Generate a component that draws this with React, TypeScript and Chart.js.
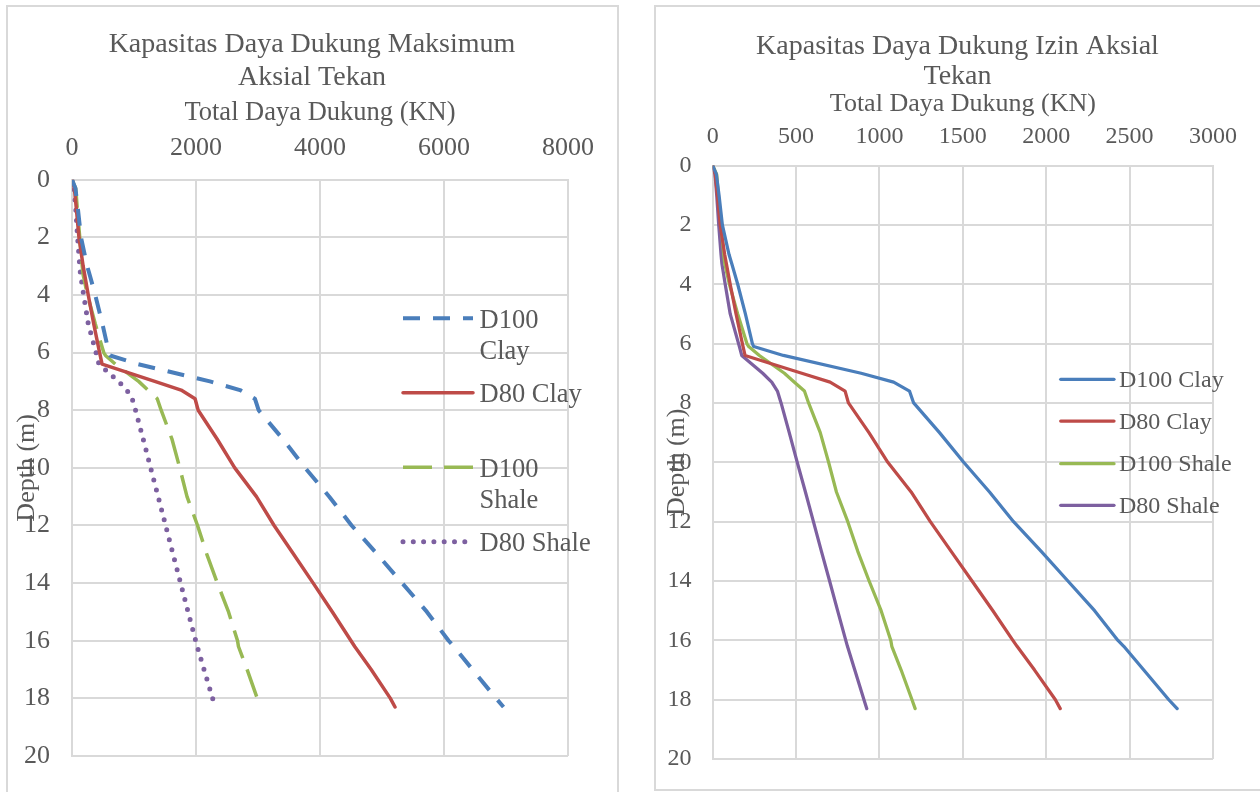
import React, { useEffect, useRef } from "react";
import { Chart, registerables } from "chart.js";

Chart.register(...registerables);

// ---------------- DATA ----------------
const depths = [0, 0.3, 1, 2, 3, 3.3, 4, 5, 6, 6.1, 6.4, 7, 7.3, 7.6, 8, 9, 10, 11, 12, 13, 14, 15, 16, 16.2, 17, 18, 18.3];

const seriesNames = ["D100 Clay", "D80 Clay", "D100 Shale", "D80 Shale"];

// Maximum axial compressive capacity (KN)
const maksD100Clay = [0, 55, 95, 145, 245, 285, 375, 490, 595, 615, 1060, 2225, 2710, 2950, 3010, 3400, 3760, 4150, 4510, 4925, 5325, 5725, 6075, 6160, 6460, 6840, 6960];
const maksD80Clay = [0, 38, 70, 112, 180, 205, 262, 350, 445, 455, 485, 1335, 1760, 1985, 2035, 2340, 2625, 2975, 3260, 3575, 3890, 4200, 4500, 4560, 4825, 5135, 5210];
const maksD100Shale = [0, 60, 85, 125, 165, 180, 250, 375, 512, 540, 700, 1075, 1225, 1375, 1438, 1612, 1738, 1855, 2025, 2175, 2345, 2525, 2670, 2685, 2825, 2988, 3035];
const maksD80Shale = [0, 35, 60, 90, 125, 138, 188, 262, 388, 400, 435, 750, 885, 970, 1025, 1148, 1268, 1390, 1510, 1630, 1752, 1872, 1995, 2020, 2130, 2268, 2310];

// Allowable axial compressive capacity (KN)
const izinD100Clay = [0, 22, 38, 58, 98, 114, 150, 196, 238, 246, 424, 890, 1085, 1180, 1205, 1360, 1505, 1660, 1804, 1970, 2130, 2290, 2430, 2465, 2585, 2735, 2785];
const izinD80Clay = [0, 15, 28, 45, 72, 82, 105, 140, 178, 182, 194, 534, 704, 794, 814, 937, 1050, 1190, 1305, 1430, 1555, 1680, 1800, 1825, 1930, 2055, 2084];
const izinD100Shale = [0, 24, 34, 50, 66, 72, 100, 150, 205, 216, 280, 430, 490, 550, 575, 645, 695, 742, 810, 870, 938, 1010, 1068, 1074, 1130, 1195, 1214];
const izinD80Shale = [0, 14, 24, 36, 50, 55, 75, 105, 155, 160, 174, 300, 354, 388, 410, 459, 507, 556, 604, 652, 701, 749, 798, 808, 852, 907, 924];

const maksTicksX = [0, 2000, 4000, 6000, 8000];
const izinTicksX = [0, 500, 1000, 1500, 2000, 2500, 3000];
const depthTicks = [0, 2, 4, 6, 8, 10, 12, 14, 16, 18, 20];

const maksTitle = ["Kapasitas Daya Dukung Maksimum", "Aksial Tekan"];
const izinTitle = ["Kapasitas Daya Dukung Izin Aksial", "Tekan"];
const xAxisTitle = "Total Daya Dukung (KN)";
const yAxisTitle = "Depth (m)";

// ---------------- STYLE ----------------
const FONT = '"Liberation Serif", "Times New Roman", Times, serif';
const TXT = "#595959";
const GRID = "#D9D9D9";
const COLORS = ["#4A7EBB", "#BE4B48", "#98B954", "#7D60A0"];

const maksStyles = [
  { borderWidth: 4, borderDash: [17, 13], borderCapStyle: "butt" },
  { borderWidth: 3.5, borderDash: [], borderCapStyle: "round" },
  { borderWidth: 3.5, borderDash: [29, 12], borderCapStyle: "butt" },
  { borderWidth: 5, borderDash: [0, 10.3], borderCapStyle: "round" },
];
const izinStyles = [0, 1, 2, 3].map(() => ({ borderWidth: 3.25, borderDash: [], borderCapStyle: "round" }));

function makeOverlayPlugin(p: any) {
  return {
    id: "overlayText",
    afterDraw(chart: any) {
      const ctx = chart.ctx;
      ctx.save();
      // chart title, centred on the whole canvas
      ctx.fillStyle = TXT;
      ctx.font = `28px ${FONT}`;
      ctx.textAlign = "center";
      ctx.textBaseline = "alphabetic";
      p.title.forEach((t: string, i: number) => {
        ctx.fillText(t, chart.width / 2, p.titleBase[i]);
      });
      // legend overlay
      const spec = p.legend;
      spec.ys.forEach((y: number, i: number) => {
        const ds = chart.data.datasets[i];
        ctx.beginPath();
        ctx.strokeStyle = ds.borderColor;
        ctx.lineWidth = ds.borderWidth;
        ctx.setLineDash(ds.borderDash || []);
        ctx.lineCap = ds.borderCapStyle || "butt";
        ctx.moveTo(spec.x1, y);
        ctx.lineTo(spec.x2, y);
        ctx.stroke();
        ctx.setLineDash([]);
        ctx.fillStyle = TXT;
        ctx.font = `${spec.size}px ${FONT}`;
        ctx.textAlign = "left";
        ctx.textBaseline = "alphabetic";
        const name = seriesNames[i];
        const lines = spec.wrap[i] ? name.split(" ") : [name];
        lines.forEach((t: string, j: number) => {
          ctx.fillText(t, spec.textX, y + spec.baseOff + j * spec.lineGap);
        });
      });
      ctx.restore();
    },
  };
}

function buildConfig(p: any) {
  const datasets = p.series.map((vals: number[], i: number) => ({
    label: seriesNames[i],
    data: vals.map((v, k) => ({ x: v, y: depths[k] })),
    showLine: true,
    fill: false,
    pointRadius: 0,
    pointHoverRadius: 0,
    borderColor: COLORS[i],
    backgroundColor: COLORS[i],
    tension: 0,
    borderJoinStyle: "round",
    ...p.styles[i],
  }));
  return {
    type: "scatter",
    data: { datasets },
    plugins: [makeOverlayPlugin(p)],
    options: {
      responsive: false,
      animation: false,
      devicePixelRatio: 1,
      events: [],
      layout: { padding: { top: p.padTop, left: 0, right: p.padRight, bottom: p.padBottom } },
      plugins: {
        legend: { display: false },
        tooltip: { enabled: false },
        title: { display: false },
      },
      scales: {
        x: {
          type: "linear",
          position: "top",
          min: 0,
          max: p.xTicks[p.xTicks.length - 1],
          afterBuildTicks: (s: any) => {
            s.ticks = p.xTicks.map((v: number) => ({ value: v }));
          },
          afterFit: (s: any) => {
            s.height = p.xAxisH;
          },
          grid: { color: GRID, lineWidth: 2, drawTicks: false },
          border: { color: GRID, width: 2 },
          ticks: {
            color: TXT,
            font: { family: FONT, size: p.tickSize, lineHeight: 1.2 },
            padding: p.xTickPad,
            maxRotation: 0,
            callback: (v: any) => String(v),
          },
          title: {
            display: true,
            text: xAxisTitle,
            color: TXT,
            font: { family: FONT, size: p.axisTitleSize, lineHeight: 1.2 },
            padding: { top: p.xTitlePad, bottom: 0 },
          },
        },
        y: {
          type: "linear",
          position: "left",
          reverse: true,
          min: 0,
          max: 20,
          afterBuildTicks: (s: any) => {
            s.ticks = depthTicks.map((v: number) => ({ value: v }));
          },
          afterFit: (s: any) => {
            s.width = p.yAxisW;
          },
          grid: { color: GRID, lineWidth: 2, drawTicks: false },
          border: { color: GRID, width: 2 },
          ticks: {
            color: TXT,
            font: { family: FONT, size: p.tickSize, lineHeight: 0.8 },
            padding: p.yTickPad,
            callback: (v: any) => String(v),
          },
          title: {
            display: true,
            text: yAxisTitle,
            color: TXT,
            font: { family: FONT, size: 26, lineHeight: 1.2 },
            padding: { top: p.yTitlePad, bottom: 0 },
          },
        },
      },
    },
  };
}

const leftParams = {
  series: [maksD100Clay, maksD80Clay, maksD100Shale, maksD80Shale],
  styles: maksStyles,
  title: maksTitle,
  titleBase: [45.5, 78.5],
  xTicks: maksTicksX,
  padTop: 84,
  xAxisH: 89.7,
  xTitlePad: 7.4,
  xTickPad: 16.2,
  tickSize: 26,
  axisTitleSize: 26.5,
  yAxisW: 66,
  yTickPad: 22,
  yTitlePad: 5.5,
  padRight: 50,
  padBottom: 36,
  legend: { x1: 397, x2: 467, textX: 473.5, ys: [312.3, 386.7, 461.3, 535.7], size: 26.5, baseOff: 9.5, lineGap: 31, wrap: [true, false, true, false] },
};

const rightParams = {
  series: [izinD100Clay, izinD80Clay, izinD100Shale, izinD80Shale],
  styles: izinStyles,
  title: izinTitle,
  titleBase: [48, 78],
  xTicks: izinTicksX,
  padTop: 82.5,
  xAxisH: 77,
  xTitlePad: 0.1,
  xTickPad: 14.3,
  tickSize: 24,
  axisTitleSize: 26,
  yAxisW: 57.7,
  yTickPad: 21.3,
  yTitlePad: 6.4,
  padRight: 47,
  padBottom: 11,
  legend: { x1: 405.7, x2: 459, textX: 464, ys: [373.3, 415, 457.7, 499.3], size: 24, baseOff: 7.6, lineGap: 30, wrap: [false, false, false, false] },
};

function ChartCanvas({ params, left, top, width, height }: any) {
  const ref = useRef<HTMLCanvasElement | null>(null);
  useEffect(() => {
    if (!ref.current) return;
    const chart = new Chart(ref.current, buildConfig(params) as any);
    return () => chart.destroy();
  }, [params]);
  return (
    <canvas
      ref={ref}
      width={width}
      height={height}
      style={{ position: "absolute", left, top, width, height }}
    />
  );
}

export default function App() {
  return (
    <div style={{ position: "fixed", left: 0, top: 0, width: 1260, height: 792, overflow: "hidden", background: "#fff" }}>
      <div style={{ position: "absolute", left: 6, top: 5, width: 613, height: 820, border: `2px solid ${GRID}`, boxSizing: "border-box" }} />
      <div style={{ position: "absolute", left: 654, top: 5, width: 640, height: 786, border: `2px solid ${GRID}`, boxSizing: "border-box" }} />
      <ChartCanvas params={leftParams} left={6} top={6} width={612} height={786} />
      <ChartCanvas params={rightParams} left={655} top={6} width={605} height={784} />
    </div>
  );
}
